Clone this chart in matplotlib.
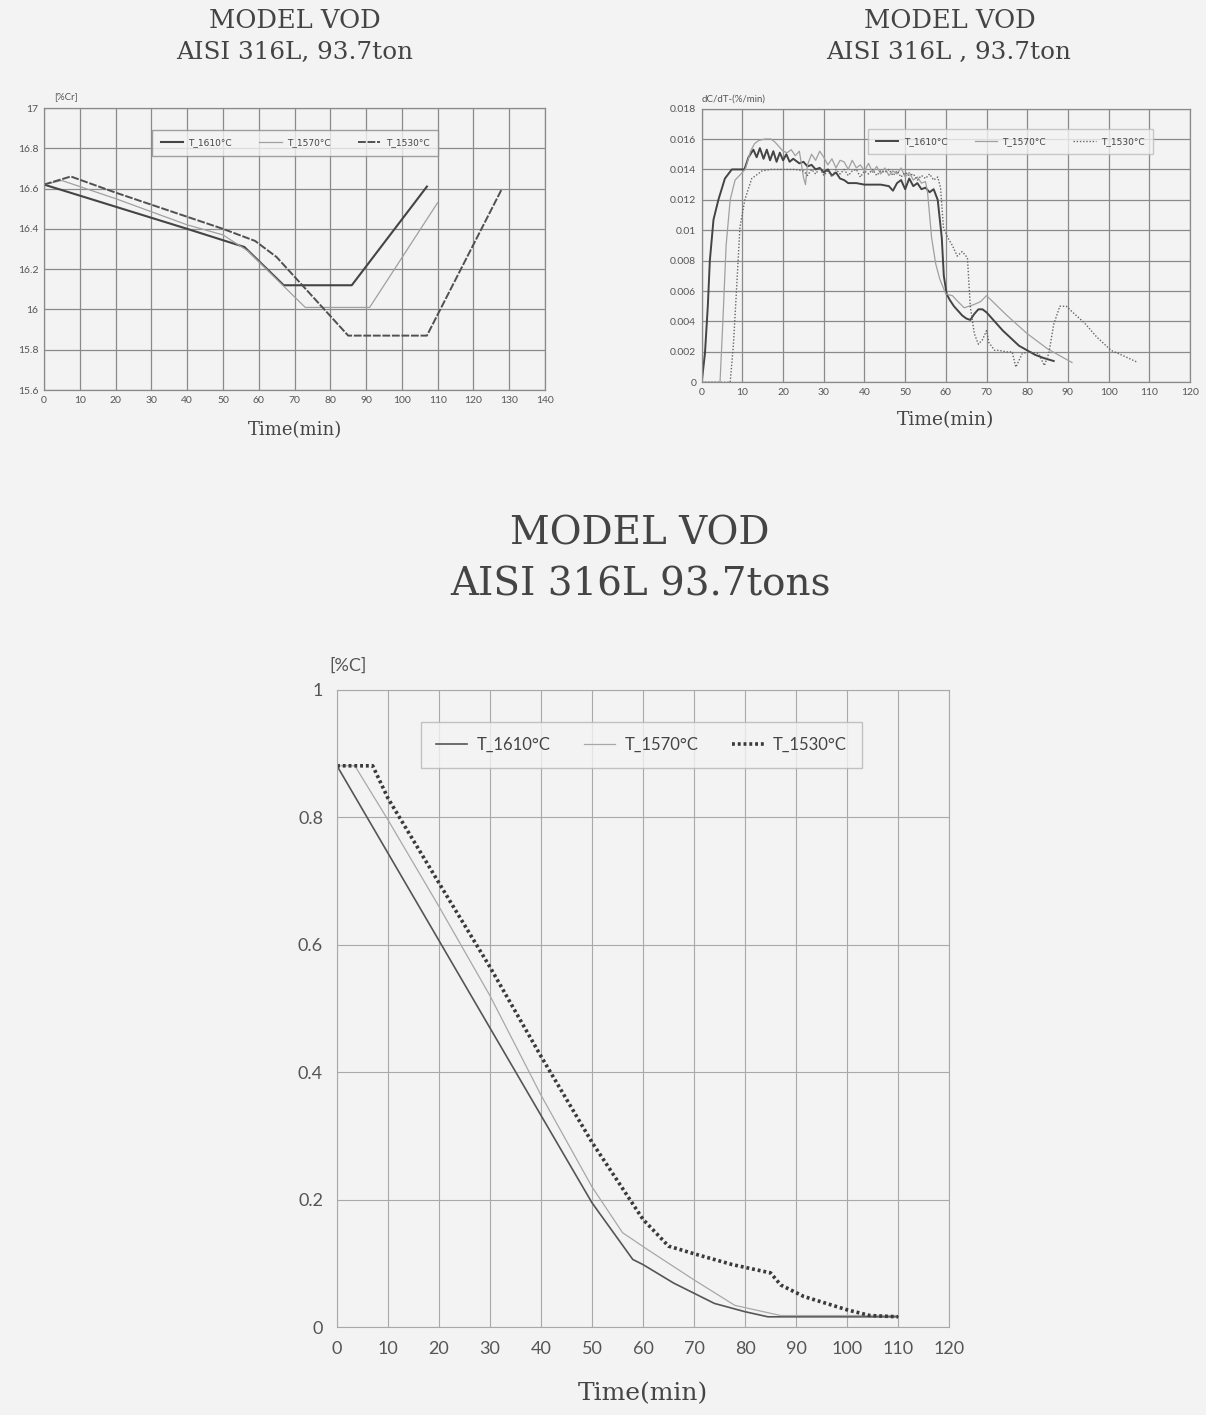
import matplotlib
matplotlib.use("Agg")
import matplotlib.pyplot as plt

# %Cr during decarburisation
t_cr_1610 = [0, 20, 40, 56, 67, 86, 107]
cr_1610 = [16.62, 16.51, 16.40, 16.31, 16.12, 16.12, 16.61]
t_cr_1570 = [0, 5, 20, 40, 50, 57, 73, 91, 110]
cr_1570 = [16.62, 16.64, 16.55, 16.42, 16.37, 16.29, 16.01, 16.01, 16.53]
t_cr_1530 = [0, 7.5, 20, 40, 50, 59, 65, 85, 107, 128]
cr_1530 = [16.62, 16.66, 16.58, 16.46, 16.40, 16.34, 16.26, 15.87, 15.87, 16.60]

# decarburisation rate dC/dT
t_r_1610 = [0, 0.8, 1.5, 2, 2.9, 4.1, 5.7, 7.4, 10.5, 11.5, 12.7, 13.5, 14.3, 15.2, 16, 16.8,
            17.6, 18.4, 19.2, 20, 20.8, 21.6, 22.5, 24, 25, 26, 27, 28, 29, 30, 31, 32, 33, 34,
            35, 36, 38, 40, 42, 44, 46, 47, 48, 49, 50, 51, 52, 53, 54, 55, 56, 57, 58, 59,
            59.5, 60.2, 61, 62, 63, 64, 65, 66, 67, 68, 69, 70, 72, 74, 76, 78, 80, 82, 84, 86.5]
r_1610 = [0, 0.0019, 0.005, 0.008, 0.0107, 0.012, 0.0134, 0.014, 0.014, 0.0148, 0.0153, 0.0148,
          0.0154, 0.0147, 0.0153, 0.0146, 0.0152, 0.0145, 0.0151, 0.0146, 0.0150, 0.0145, 0.0147,
          0.0144, 0.0145, 0.0142, 0.0143, 0.0140, 0.0141, 0.0138, 0.0140, 0.0136, 0.0138, 0.0134,
          0.0133, 0.0131, 0.0131, 0.0130, 0.0130, 0.0130, 0.0129, 0.0126, 0.0131, 0.0133, 0.0127,
          0.0134, 0.0129, 0.0131, 0.0127, 0.0128, 0.0125, 0.0127, 0.0120, 0.0095, 0.0070, 0.0058,
          0.0054, 0.0050, 0.0047, 0.0044, 0.0042, 0.0041, 0.0045, 0.0048, 0.0048, 0.0046, 0.0040,
          0.0034, 0.0029, 0.0024, 0.0021, 0.0018, 0.0016, 0.0014]
t_r_1570 = [0, 4.5, 5.2, 6, 7, 8.2, 10.7, 12, 13, 14, 15.5, 17, 18, 19, 20, 21, 22, 23, 24, 25,
            25.5, 26, 27, 28, 29, 30, 31, 32, 33, 34, 35, 36, 37, 38, 39, 40, 41, 42, 43, 44, 45,
            46, 47, 48, 49, 50, 51, 52, 53, 54, 55, 55.5, 56.5, 57.5, 58.5, 60, 61.6, 63, 64.5,
            66.8, 68.5, 70, 75, 80, 85, 91]
r_1570 = [0, 0, 0.004, 0.009, 0.012, 0.0133, 0.014, 0.0152, 0.0157, 0.0159, 0.0160, 0.0160,
          0.0158, 0.0155, 0.0152, 0.0151, 0.0153, 0.0149, 0.0152, 0.0135, 0.0130, 0.0143, 0.0150,
          0.0146, 0.0152, 0.0148, 0.0143, 0.0147, 0.0141, 0.0146, 0.0145, 0.0140, 0.0146, 0.0141,
          0.0143, 0.0139, 0.0144, 0.0138, 0.0142, 0.0137, 0.0141, 0.0136, 0.0139, 0.0137, 0.0141,
          0.0135, 0.0138, 0.0133, 0.0135, 0.0131, 0.0132, 0.0125, 0.0095, 0.0078, 0.0068, 0.0058,
          0.0057, 0.0053, 0.0049, 0.0051, 0.0053, 0.0057, 0.0044, 0.0032, 0.0022, 0.0013]
t_r_1530 = [0, 7, 7.8, 8.6, 9.4, 10.6, 12.3, 14.8, 17, 20, 23, 25, 26, 27, 28, 29, 30, 31, 32,
            33, 34, 35, 36, 37, 38, 39, 40, 41, 42, 43, 44, 45, 46, 47, 48, 49, 50, 51, 52, 53,
            54, 55, 56, 57, 58, 58.7, 59.4, 60.5, 61.6, 62.8, 64, 65.3, 66, 67, 68, 69, 70, 70.6,
            72, 73, 75, 76.3, 77.2, 78.8, 80.4, 82.8, 84.2, 85.3, 86.5, 88, 89.6, 92, 94.1, 97,
            100.6, 104, 107.2]
r_1530 = [0, 0, 0.0025, 0.0063, 0.0102, 0.012, 0.0134, 0.0139, 0.014, 0.014, 0.014, 0.0139,
          0.0136, 0.0140, 0.0137, 0.0141, 0.0136, 0.0139, 0.0135, 0.0140, 0.0137, 0.0140, 0.0136,
          0.0139, 0.0140, 0.0135, 0.0139, 0.0137, 0.0140, 0.0136, 0.0139, 0.0138, 0.0140, 0.0136,
          0.0139, 0.0135, 0.0138, 0.0136, 0.0137, 0.0133, 0.0136, 0.0134, 0.0137, 0.0133, 0.0135,
          0.0128, 0.0102, 0.0095, 0.0090, 0.0083, 0.0086, 0.0082, 0.0050, 0.0032, 0.0025, 0.0028,
          0.0034, 0.0026, 0.0021, 0.0021, 0.0020, 0.0020, 0.0010, 0.0019, 0.0020, 0.0019, 0.0011,
          0.0019, 0.0038, 0.0050, 0.0050, 0.0044, 0.0039, 0.0030, 0.0021, 0.0017, 0.0013]

# %C during decarburisation
t_c_1610 = [0, 50, 58, 60, 66, 74, 80, 84.5, 110]
c_1610 = [0.881, 0.195, 0.106, 0.098, 0.069, 0.037, 0.024, 0.016, 0.016]
t_c_1570 = [0, 3.5, 10, 20, 30, 40, 50, 56, 61, 70, 78, 87, 110]
c_1570 = [0.881, 0.881, 0.796, 0.66, 0.52, 0.364, 0.22, 0.148, 0.121, 0.074, 0.034, 0.018, 0.018]
t_c_1530 = [0, 7, 10, 20, 30, 40, 50, 60, 65, 70, 77.5, 85, 87, 91.5, 100, 104.5, 110]
c_1530 = [0.881, 0.881, 0.83, 0.697, 0.565, 0.425, 0.29, 0.169, 0.127, 0.115, 0.098, 0.085,
          0.066, 0.048, 0.027, 0.018, 0.016]

labels = ["T_1610°C", "T_1570°C", "T_1530°C"]

bg = "#f3f3f3"
serif = "DejaVu Serif"
sans = ["Lato", "DejaVu Sans"]

fig = plt.figure(figsize=(12.06, 14.15), dpi=100)
fig.patch.set_facecolor(bg)


def style_axes(ax, gridcol, lw, tsize, pad):
    ax.set_facecolor(bg)
    ax.grid(True, color=gridcol, linewidth=lw)
    ax.set_axisbelow(True)
    for s in ax.spines.values():
        s.set_color(gridcol)
        s.set_linewidth(lw)
    ax.tick_params(length=0, labelsize=tsize, colors="#555555", pad=pad)
    for lab in ax.get_xticklabels() + ax.get_yticklabels():
        lab.set_family(sans)


def fmt(v):
    return ("%g" % round(v, 4))


def small_legend(ax, anchor, edge):
    leg = ax.legend(loc="center", bbox_to_anchor=anchor, ncol=3, fontsize=6.5,
                    frameon=True, fancybox=False, handlelength=2.5, columnspacing=3.0,
                    borderpad=0.9, handletextpad=0.6)
    leg.get_frame().set_facecolor(bg)
    leg.get_frame().set_edgecolor(edge)
    for tx in leg.get_texts():
        tx.set_color("#444444")


# top left: chromium
ax1 = fig.add_axes([44 / 1206, 1 - 390 / 1415, 501 / 1206, 282 / 1415])
ax1.plot(t_cr_1610, cr_1610, color="#444444", lw=1.5, label=labels[0])
ax1.plot(t_cr_1570, cr_1570, color="#a0a0a0", lw=0.9, label=labels[1])
ax1.plot(t_cr_1530, cr_1530, color="#505050", lw=1.4, ls=(0, (4, 0.9)), label=labels[2])
ax1.set_xlim(0, 140)
ax1.set_ylim(15.6, 17)
ax1.set_xticks(range(0, 141, 10))
yt = [15.6 + 0.2 * i for i in range(8)]
ax1.set_yticks(yt)
ax1.set_yticklabels([fmt(v) for v in yt])
style_axes(ax1, "#8a8a8a", 0.9, 7.5, 4)
ax1.text(0.02, 1.025, "[%Cr]", transform=ax1.transAxes, fontsize=7, color="#555555",
         family=sans, ha="left", va="bottom")
ax1.set_xlabel("Time(min)", family=serif, fontsize=13, color="#444444", labelpad=12)
small_legend(ax1, (0.501, 0.876), "#8a8a8a")
fig.text(295 / 1206, 1 - 20 / 1415, "MODEL VOD", family=serif, fontsize=18.5, color="#444444",
         ha="center", va="center")
fig.text(295 / 1206, 1 - 52 / 1415, "AISI 316L, 93.7ton", family=serif, fontsize=17.7,
         color="#444444", ha="center", va="center")

# top right: decarburisation rate
ax2 = fig.add_axes([701.7 / 1206, 1 - 382.3 / 1415, 488.3 / 1206, 273.7 / 1415])
ax2.plot(t_r_1610, r_1610, color="#444444", lw=1.4, label=labels[0])
ax2.plot(t_r_1570, r_1570, color="#a0a0a0", lw=0.9, label=labels[1])
ax2.plot(t_r_1530, r_1530, color="#666666", lw=1.0, ls=(0, (1, 1.3)), label=labels[2])
ax2.set_xlim(0, 120)
ax2.set_ylim(0, 0.018)
ax2.set_xticks(range(0, 121, 10))
yt2 = [0.002 * i for i in range(10)]
ax2.set_yticks(yt2)
ax2.set_yticklabels([fmt(v) for v in yt2])
style_axes(ax2, "#8a8a8a", 0.9, 7.5, 4)
ax2.text(0.0, 1.02, "dC/dT-(%/min)", transform=ax2.transAxes, fontsize=7, color="#555555",
         family=sans, ha="left", va="bottom")
ax2.set_xlabel("Time(min)", family=serif, fontsize=13.5, color="#444444", labelpad=10)
small_legend(ax2, (0.632, 0.880), "#bbbbbb")
fig.text(950 / 1206, 1 - 20 / 1415, "MODEL VOD", family=serif, fontsize=18.5, color="#444444",
         ha="center", va="center")
fig.text(948 / 1206, 1 - 52 / 1415, "AISI 316L , 93.7ton", family=serif, fontsize=17.7,
         color="#444444", ha="center", va="center")

# bottom: carbon
ax3 = fig.add_axes([337 / 1206, 1 - 1327 / 1415, 612 / 1206, 637 / 1415])
ax3.plot(t_c_1610, c_1610, color="#555555", lw=1.2, label=labels[0])
ax3.plot(t_c_1570, c_1570, color="#a8a8a8", lw=0.9, label=labels[1])
ax3.plot(t_c_1530, c_1530, color="#3a3a3a", lw=2.6, ls=(0, (0.8, 0.8)), label=labels[2])
ax3.set_xlim(0, 120)
ax3.set_ylim(0, 1)
ax3.set_xticks(range(0, 121, 10))
yt3 = [0, 0.2, 0.4, 0.6, 0.8, 1]
ax3.set_yticks(yt3)
ax3.set_yticklabels([fmt(v) for v in yt3])
style_axes(ax3, "#a9a9a9", 0.8, 13, 10)
ax3.text(-0.012, 1.025, "[%C]", transform=ax3.transAxes, fontsize=13, color="#555555",
         family=sans, ha="left", va="bottom")
ax3.set_xlabel("Time(min)", family=serif, fontsize=18, color="#444444", labelpad=18)
leg = ax3.legend(loc="center", bbox_to_anchor=(0.497, 0.914), ncol=3, fontsize=12,
                 frameon=True, fancybox=False, handlelength=1.9, columnspacing=2.0,
                 borderpad=0.9, handletextpad=0.55)
leg.get_frame().set_facecolor(bg)
leg.get_frame().set_edgecolor("#b5b5b5")
for tx in leg.get_texts():
    tx.set_color("#444444")
    tx.set_family(sans)
fig.text(640 / 1206, 1 - 534 / 1415, "MODEL VOD", family=serif, fontsize=28, color="#444444",
         ha="center", va="center")
fig.text(640 / 1206, 1 - 585 / 1415, "AISI 316L 93.7tons", family=serif, fontsize=28,
         color="#444444", ha="center", va="center")

fig.savefig("out.png", dpi=100, facecolor=bg)
